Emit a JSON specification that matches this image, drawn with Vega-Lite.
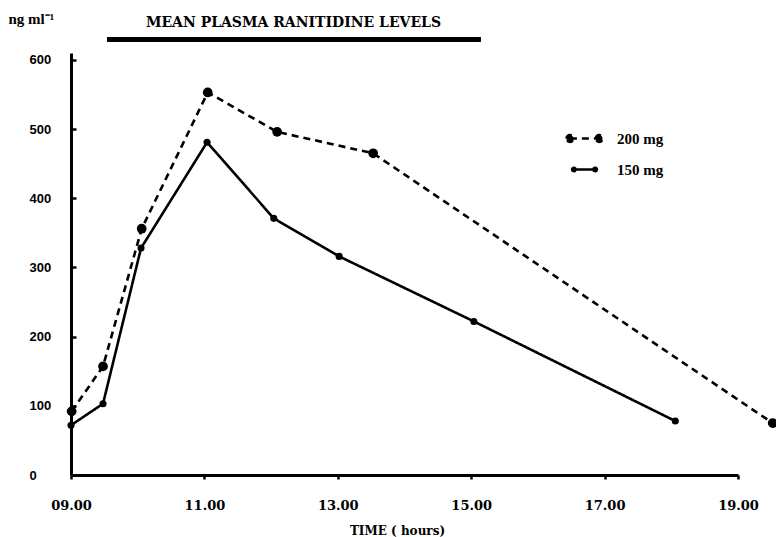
{
  "$schema": "https://vega.github.io/schema/vega-lite/v6.json",
  "autosize": {"type": "none"},
  "width": 667,
  "height": 422,
  "padding": {"left": 71, "top": 53, "right": 38, "bottom": 62},
  "background": "white",
  "title": {
    "text": "MEAN PLASMA RANITIDINE LEVELS",
    "anchor": "middle",
    "frame": "group",
    "dx": -111,
    "dy": 29,
    "font": "DejaVu Serif",
    "fontWeight": "bold",
    "fontSize": 14,
    "color": "black",
    "offset": 10
  },
  "config": {
    "view": {"stroke": null},
    "axis": {"grid": false, "domainColor": "black", "tickColor": "black", "labelColor": "black", "titleColor": "black"}
  },
  "data": {
    "values": [
      {"dose": "200 mg", "time": 9.01, "level": 92},
      {"dose": "200 mg", "time": 9.48, "level": 157},
      {"dose": "200 mg", "time": 10.06, "level": 356},
      {"dose": "200 mg", "time": 11.05, "level": 553},
      {"dose": "200 mg", "time": 12.09, "level": 496},
      {"dose": "200 mg", "time": 13.53, "level": 465},
      {"dose": "200 mg", "time": 19.52, "level": 75},
      {"dose": "150 mg", "time": 9.0, "level": 72},
      {"dose": "150 mg", "time": 9.48, "level": 103},
      {"dose": "150 mg", "time": 10.05, "level": 328},
      {"dose": "150 mg", "time": 11.04, "level": 481},
      {"dose": "150 mg", "time": 12.04, "level": 371},
      {"dose": "150 mg", "time": 13.02, "level": 316},
      {"dose": "150 mg", "time": 15.04, "level": 222},
      {"dose": "150 mg", "time": 18.06, "level": 78}
    ]
  },
  "encoding": {
    "x": {
      "field": "time",
      "type": "quantitative",
      "scale": {"domain": [9, 19], "nice": false, "zero": false},
      "axis": {
        "values": [9, 11, 13, 15, 17, 19],
        "labelExpr": "format(datum.value, '05.2f')",
        "title": "TIME ( hours)",
        "domainWidth": 3,
        "tickWidth": 2.5,
        "tickSize": 4,
        "labelPadding": 20,
        "labelFont": "DejaVu Serif",
        "labelFontWeight": "bold",
        "labelFontSize": 13,
        "labelFlush": false,
        "titleFont": "DejaVu Serif",
        "titleFontWeight": "bold",
        "titleFontSize": 12,
        "titleX": 326,
        "titleY": 55,
        "titleBaseline": "middle",
        "titleAnchor": "start",
        "titleAlign": "center"
      }
    },
    "y": {
      "field": "level",
      "type": "quantitative",
      "scale": {"domain": [0, 610], "nice": false},
      "axis": {
        "values": [0, 100, 200, 300, 400, 500, 600],
        "title": "ng ml⁻¹",
        "titleAngle": 0,
        "titleAlign": "left",
        "titleBaseline": "middle",
        "titleX": -63,
        "titleY": -35,
        "titleFont": "Liberation Serif",
        "titleFontWeight": "bold",
        "titleFontSize": 15,
        "domainWidth": 3,
        "tickWidth": 2.5,
        "tickSize": -5,
        "labelAlign": "left",
        "labelBaseline": "middle",
        "labelPadding": 47,
        "labelFont": "Liberation Sans",
        "labelFontWeight": "bold",
        "labelFontSize": 13,
        "labelFlush": false
      }
    }
  },
  "layer": [
    {
      "mark": {"type": "rule", "color": "black", "strokeWidth": 4, "clip": false},
      "encoding": {
        "x": {"datum": 9.54},
        "x2": {"datum": 15.14},
        "y": {"datum": 630}
      }
    },
    {
      "mark": {"type": "line", "color": "black", "strokeWidth": 2.6, "clip": false},
      "encoding": {
        "detail": {"field": "dose"},
        "strokeDash": {
          "field": "dose",
          "type": "nominal",
          "scale": {"domain": ["200 mg", "150 mg"], "range": [[7, 5], [1, 0]]},
          "legend": {
            "title": null,
            "orient": "none",
            "legendX": 506,
            "legendY": 78,
            "padding": 0,
            "symbolSize": 225,
            "symbolStrokeWidth": 2.5,
            "symbolStrokeColor": "black",
            "rowPadding": 15,
            "labelOffset": 25,
            "labelFont": "Liberation Serif",
            "labelFontWeight": "bold",
            "labelFontSize": 15,
            "labelColor": "black",
            "labelBaseline": "middle",
            "encode": {
              "symbols": {
                "update": {
                  "fill": {"value": "black"},
                  "fillOpacity": {"value": 1},
                  "stroke": {"value": "black"},
                  "strokeOpacity": {"value": 1},
                  "strokeWidth": {"value": 2.5},
                  "shape": {"signal": "datum.value === '200 mg' ? 'M-3,0L3,0M-3.7,0C-3.7,-0.387 -3.387,-0.7 -3,-0.7C-2.613,-0.7 -2.3,-0.387 -2.3,0C-2.3,0.387 -2.613,0.7 -3,0.7C-3.387,0.7 -3.7,0.387 -3.7,0ZM2.3,0C2.3,-0.387 2.613,-0.7 3,-0.7C3.387,-0.7 3.7,-0.387 3.7,0C3.7,0.387 3.387,0.7 3,0.7C2.613,0.7 2.3,0.387 2.3,0Z' : 'M-3,0L3,0M-3.5,0C-3.5,-0.276 -3.276,-0.5 -3,-0.5C-2.724,-0.5 -2.5,-0.276 -2.5,0C-2.5,0.276 -2.724,0.5 -3,0.5C-3.276,0.5 -3.5,0.276 -3.5,0ZM2.5,0C2.5,-0.276 2.724,-0.5 3,-0.5C3.276,-0.5 3.5,-0.276 3.5,0C3.5,0.276 3.276,0.5 3,0.5C2.724,0.5 2.5,0.276 2.5,0Z'"}
                }
              }
            }
          }
        }
      }
    },
    {
      "mark": {"type": "point", "filled": true, "color": "black", "opacity": 1, "clip": false},
      "encoding": {
        "size": {
          "field": "dose",
          "type": "nominal",
          "scale": {"domain": ["200 mg", "150 mg"], "range": [95, 50]},
          "legend": null
        }
      }
    }
  ]
}
